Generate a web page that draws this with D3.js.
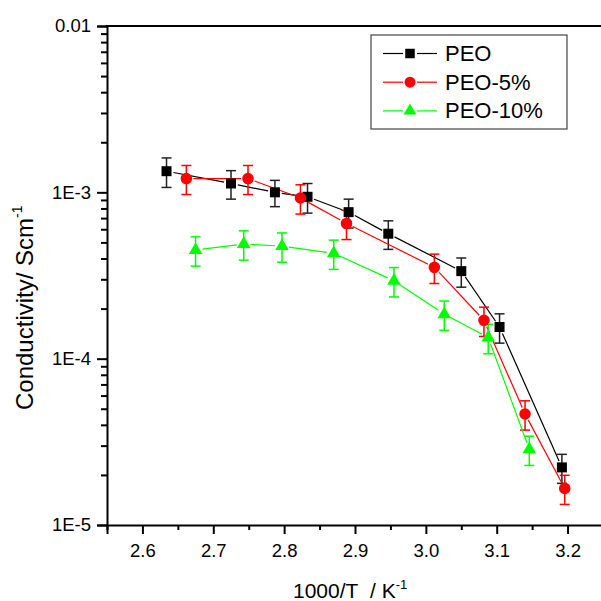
<!DOCTYPE html>
<html>
<head>
<meta charset="utf-8">
<script src="https://cdn.jsdelivr.net/npm/d3@7"></script>
<style>
  body { margin: 0; background: #fff; }
  text { font-family: Arial, "Liberation Sans", sans-serif; }
</style>
</head>
<body>
<div id="wrapper"></div>
<script>
const peoX = [2.634, 2.725, 2.787, 2.833, 2.891, 2.947, 3.050, 3.104, 3.192];
const peoY = [1.34e-3, 1.13e-3, 1.00e-3, 0.94e-3, 0.76e-3, 0.564e-3, 0.336e-3, 0.155e-3, 2.22e-5];
const peoErr = [0.27e-3, 0.22e-3, 0.18e-3, 0.19e-3, 0.15e-3, 0.11e-3, 0.067e-3, 0.031e-3, 0.44e-5];

const peo5X = [2.662, 2.749, 2.823, 2.888, 3.012, 3.082, 3.140, 3.196];
const peo5Y = [1.21e-3, 1.21e-3, 0.925e-3, 0.65e-3, 0.354e-3, 0.17e-3, 4.65e-5, 1.66e-5];
const peo5Err = [0.24e-3, 0.24e-3, 0.185e-3, 0.13e-3, 0.071e-3, 0.034e-3, 0.93e-5, 0.33e-5];

const peo10X = [2.675, 2.743, 2.797, 2.870, 2.955, 3.026, 3.088, 3.146];
const peo10Y = [0.45e-3, 0.489e-3, 0.475e-3, 0.43e-3, 0.294e-3, 0.185e-3, 0.134e-3, 2.85e-5];
const peo10Err = [0.09e-3, 0.098e-3, 0.095e-3, 0.086e-3, 0.059e-3, 0.037e-3, 0.027e-3, 0.57e-5];

const seriesNames = ["PEO", "PEO-5%", "PEO-10%"];
const xMajor = [2.6, 2.7, 2.8, 2.9, 3.0, 3.1, 3.2];
const xMinor = [2.55, 2.65, 2.75, 2.85, 2.95, 3.05, 3.15, 3.25];
const yMajor = [1e-5, 1e-4, 1e-3, 1e-2];
const yMajorLabels = ["1E-5", "1E-4", "1E-3", "0.01"];

const width = 601, height = 601;
const dims = { left: 107, top: 26, right: 603, bottom: 525 };

const svg = d3.select("#wrapper").append("svg")
  .attr("width", width)
  .attr("height", height)
  .style("display", "block");

svg.append("rect").attr("width", width).attr("height", height).attr("fill", "#fff");

const x = d3.scaleLinear().domain([2.55, 3.25]).range([dims.left, dims.right]);
const y = d3.scaleLog().domain([1e-5, 1e-2]).range([dims.bottom, dims.top]);

const yMinor = [];
[1e-5, 1e-4, 1e-3].forEach(d => { for (let k = 2; k <= 9; k++) yMinor.push(d * k); });

// axes
const xMinorAxis = svg.append("g")
  .attr("transform", `translate(0,${dims.bottom})`)
  .call(d3.axisBottom(x).tickValues(xMinor).tickSize(5).tickFormat(""));
const xAxis = svg.append("g")
  .attr("transform", `translate(0,${dims.bottom})`)
  .call(d3.axisBottom(x).tickValues(xMajor).tickSize(9).tickPadding(10).tickFormat(d3.format(".1f")));

const yMinorAxis = svg.append("g")
  .attr("transform", `translate(${dims.left},0)`)
  .call(d3.axisLeft(y).tickValues(yMinor).tickSize(6).tickFormat(""));
const yAxis = svg.append("g")
  .attr("transform", `translate(${dims.left},0)`)
  .call(d3.axisLeft(y).tickValues(yMajor).tickSize(10).tickPadding(6)
    .tickFormat((d, i) => yMajorLabels[i]));

[xMinorAxis, xAxis, yMinorAxis, yAxis].forEach(g => {
  g.select(".domain").attr("stroke-width", 2).attr("stroke", "#000");
  g.selectAll(".tick line").attr("stroke-width", 2).attr("stroke", "#000");
  g.selectAll(".tick text").attr("font-size", 18.5).attr("fill", "#000")
    .style("font-family", "Arial, 'Liberation Sans', sans-serif");
});
xMinorAxis.select(".domain").remove();
yMinorAxis.select(".domain").remove();

// top frame line
svg.append("line")
  .attr("x1", dims.left - 1).attr("x2", width)
  .attr("y1", dims.top).attr("y2", dims.top)
  .attr("stroke", "#000").attr("stroke-width", 2);

// axis titles
const xTitle = svg.append("text")
  .attr("x", 293).attr("y", 598)
  .attr("font-size", 21).attr("fill", "#000");
xTitle.append("tspan").text("1000/T\u00a0\u00a0/ K");
xTitle.append("tspan").attr("font-size", 13).attr("dy", -9).text("-1");

const yTitle = svg.append("text")
  .attr("transform", "translate(33,410) rotate(-90)")
  .attr("font-size", 24).attr("fill", "#000");
yTitle.append("tspan").text("Conductivity/ Scm");
yTitle.append("tspan").attr("font-size", 14).attr("dy", -11).text("-1");

// series
const series = [
  { name: seriesNames[0], xs: peoX, ys: peoY, err: peoErr, color: "#000000", bar: "#222", shape: d3.symbolSquare, size: 100, gap: 7 },
  { name: seriesNames[1], xs: peo5X, ys: peo5Y, err: peo5Err, color: "#ff0000", bar: "#ff0000", shape: d3.symbolCircle, size: 105, gap: 7 },
  { name: seriesNames[2], xs: peo10X, ys: peo10Y, err: peo10Err, color: "#00ff00", bar: "#00ff00", shape: d3.symbolTriangle, size: 80, gap: 7 }
];

const plot = svg.append("g");

series.forEach(s => {
  const pts = s.xs.map((v, i) => ({ x: x(v), y: y(s.ys[i]), lo: y(s.ys[i] - s.err[i]), hi: y(s.ys[i] + s.err[i]) }));

  // connecting lines, stopped a little short of each marker
  const segs = d3.pairs(pts).map(([a, b]) => {
    const dx = b.x - a.x, dy = b.y - a.y, len = Math.hypot(dx, dy);
    const ux = dx / len, uy = dy / len;
    return { x1: a.x + ux * s.gap, y1: a.y + uy * s.gap, x2: b.x - ux * s.gap, y2: b.y - uy * s.gap };
  });
  plot.append("g").selectAll("line").data(segs).join("line")
    .attr("x1", d => d.x1).attr("y1", d => d.y1)
    .attr("x2", d => d.x2).attr("y2", d => d.y2)
    .attr("stroke", s.color).attr("stroke-width", 1.2);

  // error bars
  const eb = plot.append("g").attr("stroke", s.bar).attr("stroke-width", 1.5);
  eb.selectAll(".v").data(pts).join("line").attr("class", "v")
    .attr("x1", d => d.x).attr("x2", d => d.x)
    .attr("y1", d => d.hi).attr("y2", d => d.lo);
  eb.selectAll(".t").data(pts).join("line").attr("class", "t")
    .attr("x1", d => d.x - 5).attr("x2", d => d.x + 5)
    .attr("y1", d => d.hi).attr("y2", d => d.hi);
  eb.selectAll(".b").data(pts).join("line").attr("class", "b")
    .attr("x1", d => d.x - 5).attr("x2", d => d.x + 5)
    .attr("y1", d => d.lo).attr("y2", d => d.lo);

  s.pts = pts;
});

series.forEach(s => {
  plot.append("g").selectAll("path").data(s.pts).join("path")
    .attr("transform", d => `translate(${d.x},${d.y})`)
    .attr("d", d3.symbol(s.shape, s.size))
    .attr("fill", s.color);
});

// legend
const legend = svg.append("g");
legend.append("rect")
  .attr("x", 371).attr("y", 35).attr("width", 196).attr("height", 94)
  .attr("fill", "#fff").attr("stroke", "#444").attr("stroke-width", 1.2);

series.forEach((s, i) => {
  const cy = 53.5 + i * 28.7;
  const row = legend.append("g");
  row.append("line").attr("x1", 383).attr("x2", 403).attr("y1", cy).attr("y2", cy)
    .attr("stroke", s.color).attr("stroke-width", 1.2);
  row.append("line").attr("x1", 417).attr("x2", 437).attr("y1", cy).attr("y2", cy)
    .attr("stroke", s.color).attr("stroke-width", 1.2);
  row.append("path")
    .attr("transform", `translate(410,${cy})`)
    .attr("d", d3.symbol(s.shape, s.size * 0.9))
    .attr("fill", s.color);
  row.append("text")
    .attr("x", 445).attr("y", cy + 7.5)
    .attr("font-size", 22).attr("fill", "#000")
    .text(s.name);
});
</script>
</body>
</html>
